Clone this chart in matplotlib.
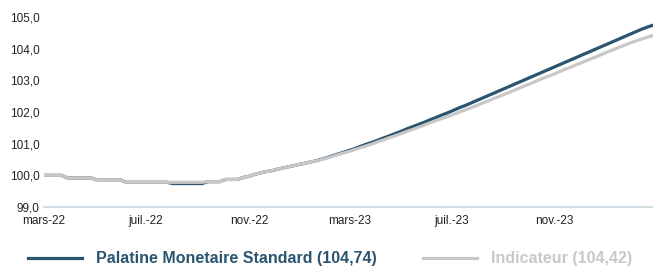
import matplotlib
matplotlib.use('Agg')
import matplotlib.pyplot as plt
import matplotlib.ticker as ticker
import pandas as pd

plt.rcParams['font.family'] = ['Liberation Sans', 'DejaVu Sans']

# weekly valuation dates, March 2022 -> February 2024
dates = pd.date_range('2022-03-01', periods=105, freq='7D')

fund_name = 'Palatine Monetaire Standard (104,74)'
index_name = 'Indicateur (104,42)'

fund = [
    100.00, 100.00, 100.00, 100.00, 99.92, 99.92, 99.92, 99.92, 99.92, 99.86,
    99.86, 99.86, 99.86, 99.86, 99.78, 99.78, 99.78, 99.78, 99.78, 99.78,
    99.78, 99.78, 99.74, 99.74, 99.74, 99.74, 99.74, 99.74, 99.80, 99.80,
    99.80, 99.87, 99.87, 99.87, 99.93, 99.97, 100.03, 100.08, 100.12, 100.15,
    100.20, 100.24, 100.28, 100.32, 100.36, 100.40, 100.44, 100.49, 100.54, 100.60,
    100.66, 100.72, 100.78, 100.84, 100.91, 100.98, 101.04, 101.11, 101.18, 101.25,
    101.32, 101.39, 101.47, 101.54, 101.61, 101.68, 101.76, 101.83, 101.91, 101.98,
    102.06, 102.14, 102.21, 102.29, 102.37, 102.45, 102.53, 102.61, 102.69, 102.77,
    102.85, 102.93, 103.01, 103.09, 103.17, 103.25, 103.33, 103.41, 103.49, 103.57,
    103.65, 103.73, 103.81, 103.89, 103.97, 104.05, 104.13, 104.21, 104.29, 104.37,
    104.45, 104.53, 104.61, 104.68, 104.74,
]

indicator = [
    100.00, 100.00, 100.00, 100.00, 99.92, 99.92, 99.92, 99.92, 99.92, 99.86,
    99.86, 99.86, 99.86, 99.86, 99.78, 99.78, 99.78, 99.78, 99.78, 99.78,
    99.78, 99.78, 99.78, 99.78, 99.78, 99.78, 99.78, 99.78, 99.80, 99.80,
    99.80, 99.87, 99.87, 99.87, 99.93, 99.97, 100.03, 100.08, 100.12, 100.15,
    100.20, 100.24, 100.28, 100.32, 100.36, 100.40, 100.44, 100.48, 100.53, 100.58,
    100.64, 100.70, 100.75, 100.81, 100.87, 100.93, 100.99, 101.06, 101.12, 101.19,
    101.25, 101.32, 101.39, 101.45, 101.52, 101.59, 101.66, 101.73, 101.80, 101.86,
    101.93, 102.00, 102.07, 102.14, 102.21, 102.29, 102.36, 102.44, 102.51, 102.59,
    102.66, 102.74, 102.82, 102.89, 102.97, 103.05, 103.12, 103.19, 103.27, 103.35,
    103.42, 103.50, 103.57, 103.65, 103.72, 103.80, 103.88, 103.95, 104.03, 104.10,
    104.17, 104.24, 104.30, 104.36, 104.42,
]

tick_dates = ['2022-03-01', '2022-07-01', '2022-11-01', '2023-03-01', '2023-07-01', '2023-11-01']
tick_labels = ['mars-22', 'juil.-22', 'nov.-22', 'mars-23', 'juil.-23', 'nov.-23']
y_ticks = [99, 100, 101, 102, 103, 104, 105]

fund_color = '#2b5470'
index_color = '#c8c8c8'

fig = plt.figure(figsize=(6.53, 2.68), dpi=100)
ax = fig.add_axes([44/653, 1 - 207/268, 1 - 44/653, (207 - 17)/268])

ax.plot(dates, fund, color=fund_color, lw=2.3, label=fund_name, zorder=2)
ax.plot(dates, indicator, color=index_color, lw=2.3, label=index_name, zorder=3)

ax.set_xlim(dates[0], dates[-1])
ax.set_ylim(99, 105)
ax.set_yticks(y_ticks)
ax.yaxis.set_major_formatter(ticker.FuncFormatter(lambda v, p: f'{v:.1f}'.replace('.', ',')))
ax.set_xticks(pd.to_datetime(tick_dates))
ax.set_xticklabels(tick_labels)

for s in ['top', 'right', 'left']:
    ax.spines[s].set_visible(False)
ax.spines['bottom'].set_color('#c9d8de')
ax.spines['bottom'].set_linewidth(1.2)
ax.tick_params(axis='both', length=0, labelsize=8.5, colors='#222222')
ax.tick_params(axis='y', pad=3)
ax.tick_params(axis='x', pad=5.5)

leg = fig.legend(loc='center left', bbox_to_anchor=(28/653, 1 - 259/268), ncol=2,
                 frameon=False, borderpad=0, borderaxespad=0,
                 handlelength=3.4, handletextpad=0.85, columnspacing=2.9,
                 prop={'weight': 'bold', 'size': 11.5}, labelcolor='linecolor')

fig.savefig('out.png', dpi=100)
